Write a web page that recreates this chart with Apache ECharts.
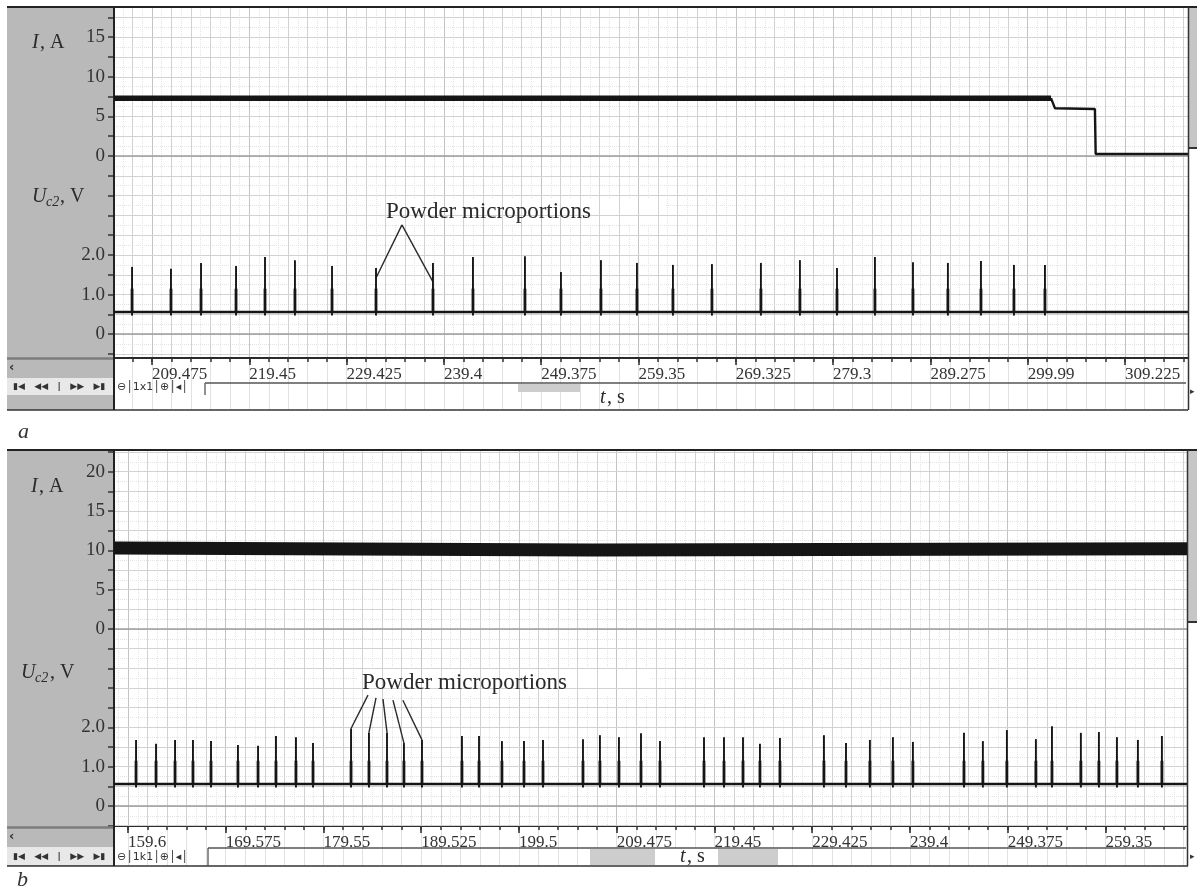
<!DOCTYPE html>
<html>
<head>
<meta charset="utf-8">
<script src="https://cdn.jsdelivr.net/npm/echarts@6/dist/echarts.min.js"></script>
<style>
  html, body { margin: 0; padding: 0; background: #ffffff; }
  #chart { width: 1197px; height: 890px; }
</style>
</head>
<body>
<div id="chart"></div>
<script>
// ---------- record a ----------
const xTicksA = [209.475, 219.45, 229.425, 239.4, 249.375, 259.35, 269.325, 279.3, 289.275, 299.25, 309.225];
const xTickLabelsA = ['209.475', '219.45', '229.425', '239.4', '249.375', '259.35', '269.325', '279.3', '289.275', '299.99', '309.225'];
const currentLabelsA = [0, 5, 10, 15];
const voltageLabelsA = [0, 1, 2];

// welding current, A (noisy plateau, then the two-step shutdown)
const bandTimeA = [205.58, 301.64];
const bandCurrentA = [7.3, 7.3];
const tailTimeA = [301.64, 302.05, 306.14, 306.22, 315.68];
const tailCurrentA = [7.3, 6.02, 5.93, 0.25, 0.25];

// sensor voltage U_c2, V: baseline and pulse peaks
const baseVoltageA = 0.56;
const pulseTimeA = [207.43, 211.42, 214.50, 218.09, 221.06, 224.13, 227.93, 232.44, 238.28, 242.38,
                    247.71, 251.40, 255.50, 259.19, 262.88, 266.88, 271.90, 275.90, 279.70, 283.59,
                    287.49, 291.07, 294.46, 297.84, 301.02];
const pulsePeakA = [1.70, 1.65, 1.80, 1.72, 1.95, 1.87, 1.72, 1.67, 1.80, 1.95,
                    1.97, 1.57, 1.87, 1.80, 1.75, 1.77, 1.80, 1.87, 1.67, 1.95,
                    1.82, 1.80, 1.85, 1.75, 1.75];
// callout lines: [from, to] in (t, V)
const leaderA = [
  [[235.10, 2.76], [232.44, 1.42]],
  [[235.10, 2.76], [238.28, 1.32]]
];

// ---------- record b ----------
const xTicksB = [159.6, 169.575, 179.55, 189.525, 199.5, 209.475, 219.45, 229.425, 239.4, 249.375, 259.35];
const xTickLabelsB = ['159.6', '169.575', '179.55', '189.525', '199.5', '209.475', '219.45', '229.425', '239.4', '249.375', '259.35'];
const currentLabelsB = [0, 5, 10, 15, 20];
const voltageLabelsB = [0, 1, 2];

const bandTimeB = [158.17, 207.0, 267.67];
const bandCurrentB = [10.3, 10.05, 10.2];

const baseVoltageB = 0.56;
const pulseTimeB = [160.42, 162.46, 164.40, 166.23, 168.07, 170.82, 172.87, 174.70, 176.74, 178.48,
                    182.36, 184.19, 186.03, 187.76, 189.60, 193.68, 195.42, 197.76, 200.01, 201.95,
                    206.03, 207.76, 209.70, 211.95, 213.89, 218.38, 220.42, 222.36, 224.09, 226.13,
                    230.62, 232.87, 235.31, 237.66, 239.70, 244.91, 246.84, 249.29, 252.25, 253.89,
                    256.84, 258.68, 260.52, 262.66, 265.11];
const pulsePeakB = [1.68, 1.58, 1.68, 1.68, 1.65, 1.55, 1.53, 1.78, 1.75, 1.60,
                    1.97, 1.87, 1.87, 1.60, 1.68, 1.78, 1.78, 1.65, 1.65, 1.68,
                    1.70, 1.80, 1.75, 1.85, 1.65, 1.75, 1.75, 1.75, 1.58, 1.73,
                    1.80, 1.60, 1.68, 1.75, 1.63, 1.86, 1.65, 1.93, 1.70, 2.03,
                    1.86, 1.88, 1.75, 1.68, 1.78];
const leaderB = [
  [[184.09, 2.82], [182.36, 1.97]],
  [[184.91, 2.75], [184.19, 1.87]],
  [[185.62, 2.72], [186.03, 1.87]],
  [[186.64, 2.69], [187.76, 1.60]],
  [[187.65, 2.69], [189.60, 1.68]]
];

// shape of every pulse: short dip below the baseline, thick core up to this level
const pulseDipV = 0.47;
const pulseCoreV = 1.15;

// ---------- helpers ----------
const SERIF = '"Liberation Serif", "DejaVu Serif", serif';
const TRACE = '#151515';
const MINOR_STEP = 1.995;

function seq(start, step, lo, hi) {
  const out = [];
  let k = Math.ceil((lo - start) / step - 1e-9);
  for (;; k++) {
    const v = +(start + k * step).toFixed(4);
    if (v > hi + 1e-9) break;
    out.push(v);
  }
  return out;
}
function pairs(xs, ys) { return xs.map((x, i) => [x, ys[i]]); }

const grids = [], xAxes = [], yAxes = [], series = [];

function addPanel(p) {
  const g = grids.length, xi = xAxes.length, yi = yAxes.length;
  grids.push({ left: 114, top: p.top, width: p.width, height: p.height, containLabel: false, outerBoundsMode: 'none' });
  grids.push({ left: 114, top: p.stripTop, width: p.width, height: p.stripH, containLabel: false, outerBoundsMode: 'none' });

  const minorX = seq(p.xTicks[0], MINOR_STEP, p.xMin, p.xMax);
  const midX = seq(p.xTicks[0] + MINOR_STEP / 2, MINOR_STEP, p.xMin, p.xMax);
  const hidden = { axisLine: { show: false }, axisTick: { show: false }, axisLabel: { show: false } };

  // x: minor ticks and the solid grid
  xAxes.push({
    type: 'value', gridIndex: g, position: 'bottom', min: p.xMin, max: p.xMax, z: 4,
    axisLine: { show: true, onZero: false, lineStyle: { color: '#2b2b2b', width: 2 } },
    axisTick: { show: true, customValues: minorX, length: 4, lineStyle: { color: '#333', width: 1.5 } },
    axisLabel: { show: false },
    splitLine: { show: true, lineStyle: { color: '#d2d2d2', width: 1 } }
  });
  // x: labelled major ticks
  xAxes.push({
    type: 'value', gridIndex: g, position: 'bottom', min: p.xMin, max: p.xMax, z: 4,
    axisLine: { show: false, onZero: false },
    axisTick: { show: true, customValues: p.xTicks, length: 7, lineStyle: { color: '#333', width: 1.6 } },
    axisLabel: {
      show: true, customValues: p.xTicks, align: 'left', margin: 8,
      fontFamily: SERIF, fontSize: 17, color: '#333',
      formatter: v => { const i = p.xTicks.findIndex(t => Math.abs(t - v) < 1e-6); return i < 0 ? '' : p.xLabels[i]; }
    },
    splitLine: { show: true, lineStyle: { color: '#c4c4c4', width: 1 } }
  });
  // x: dotted half-division grid
  xAxes.push(Object.assign({
    type: 'value', gridIndex: g, position: 'bottom', min: p.xMin, max: p.xMax,
    splitLine: { show: true, lineStyle: { color: '#e4e4e4', type: 'dotted', width: 1 } }
  }, hidden, { axisTick: { show: false, customValues: midX } }));
  // x: grid continued under the time scale
  xAxes.push(Object.assign({
    type: 'value', gridIndex: g + 1, position: 'bottom', min: p.xMin, max: p.xMax,
    splitLine: { show: true, lineStyle: { color: '#e2e2e2', width: 1 } }
  }, hidden, { axisTick: { show: false, customValues: minorX } }));

  const iTicks = seq(0, 2.5, -5, p.iMax);
  const vTicks = seq(0, 0.5, -0.5, 3.5);
  const vMid = seq(0.25, 0.5, p.vMin, p.vMax);

  // y: current, A
  yAxes.push({
    type: 'value', gridIndex: g, position: 'left', offset: 0, min: p.iMin, max: p.iMax, z: 5,
    axisLine: { show: false },
    axisTick: { show: true, customValues: iTicks, length: 6, lineStyle: { color: '#333', width: 1.5 } },
    axisLabel: { show: true, customValues: p.iLabels, margin: 9, fontFamily: SERIF, fontSize: 19, color: '#333',
                 formatter: v => String(Math.round(v)) },
    splitLine: { show: true, lineStyle: { color: '#d2d2d2', width: 1 } }
  });
  // y: voltage, V
  yAxes.push({
    type: 'value', gridIndex: g, position: 'left', offset: 0, min: p.vMin, max: p.vMax, z: 5,
    axisLine: { show: false },
    axisTick: { show: true, customValues: vTicks, length: 6, lineStyle: { color: '#333', width: 1.5 } },
    axisLabel: { show: true, customValues: p.vLabels, margin: 9, fontFamily: SERIF, fontSize: 19, color: '#333',
                 formatter: v => (v === 0 ? '0' : v.toFixed(1)) },
    splitLine: { show: true, lineStyle: { color: '#d2d2d2', width: 1 } }
  });
  // y: dotted half-division grid
  yAxes.push(Object.assign({
    type: 'value', gridIndex: g, position: 'left', min: p.vMin, max: p.vMax,
    splitLine: { show: true, lineStyle: { color: '#e4e4e4', type: 'dotted', width: 1 } }
  }, hidden, { axisTick: { show: false, customValues: vMid } }));
  // y: strip under the time scale
  yAxes.push(Object.assign({ type: 'value', gridIndex: g + 1, min: 0, max: 1, splitLine: { show: false } }, hidden));

  const zeroStyle = { color: '#9d9d9d', width: 1.6, type: 'solid' };

  // current trace
  series.push({
    type: 'line', xAxisIndex: xi, yAxisIndex: yi, data: pairs(p.bandTime, p.bandCurrent),
    symbol: 'none', silent: true, animation: false, z: 10,
    lineStyle: { color: TRACE, width: p.bandWidth, cap: 'butt' },
    markLine: { symbol: ['none', 'none'], silent: true, animation: false, label: { show: false },
                lineStyle: zeroStyle, data: [{ yAxis: 0 }] }
  });
  if (p.tailTime) {
    series.push({
      type: 'line', xAxisIndex: xi, yAxisIndex: yi, data: pairs(p.tailTime, p.tailCurrent),
      symbol: 'none', silent: true, animation: false, z: 10,
      lineStyle: { color: TRACE, width: 2.4 }
    });
  }
  // voltage baseline with the zero reference and the callout lines
  series.push({
    type: 'line', xAxisIndex: xi, yAxisIndex: yi + 1, data: [[p.xMin, p.baseV], [p.xMax, p.baseV]],
    symbol: 'none', silent: true, animation: false, z: 10,
    lineStyle: { color: TRACE, width: 2.6 },
    markLine: {
      symbol: ['none', 'none'], silent: true, animation: false, label: { show: false },
      data: [{ yAxis: 0, lineStyle: zeroStyle }]
        .concat(p.leaders.map(l => [
          { coord: l[0], lineStyle: { color: '#2a2a2a', width: 1.4, type: 'solid' } },
          { coord: l[1] }
        ]))
    }
  });
  // voltage pulses
  series.push({
    type: 'custom', xAxisIndex: xi, yAxisIndex: yi + 1, silent: true, animation: false, z: 11,
    data: pairs(p.pulseTime, p.pulsePeak),
    renderItem: (params, api) => {
      const t = api.value(0), peak = api.value(1);
      const top = api.coord([t, peak]);
      const dip = api.coord([t, pulseDipV]);
      const base = api.coord([t, p.baseV]);
      const core = api.coord([t, pulseCoreV]);
      return {
        type: 'group',
        children: [
          { type: 'line', shape: { x1: dip[0], y1: dip[1], x2: top[0], y2: top[1] }, style: { stroke: TRACE, lineWidth: 1.9 } },
          { type: 'line', shape: { x1: base[0], y1: base[1], x2: core[0], y2: core[1] }, style: { stroke: TRACE, lineWidth: 2.8 } }
        ]
      };
    }
  });
}

addPanel({
  top: 7, height: 351, width: 1074, stripTop: 360, stripH: 50,
  xMin: 205.579, xMax: 315.685, iMin: -25.505, iMax: 18.813, vMin: -0.601, vMax: 8.263,
  xTicks: xTicksA, xLabels: xTickLabelsA, iLabels: currentLabelsA, vLabels: voltageLabelsA,
  bandTime: bandTimeA, bandCurrent: bandCurrentA, bandWidth: 5.5,
  tailTime: tailTimeA, tailCurrent: tailCurrentA,
  baseV: baseVoltageA, pulseTime: pulseTimeA, pulsePeak: pulsePeakA, leaders: leaderA
});
addPanel({
  top: 450, height: 376, width: 1073, stripTop: 828, stripH: 38,
  xMin: 158.171, xMax: 267.67, iMin: -25.04, iMax: 22.75, vMin: -0.508, vMax: 9.049,
  xTicks: xTicksB, xLabels: xTickLabelsB, iLabels: currentLabelsB, vLabels: voltageLabelsB,
  bandTime: bandTimeB, bandCurrent: bandCurrentB, bandWidth: 13,
  baseV: baseVoltageB, pulseTime: pulseTimeB, pulsePeak: pulsePeakB, leaders: leaderB
});

// ---------- instrument window chrome ----------
const R = (x, y, w, h, fill, z) => ({ type: 'rect', shape: { x, y, width: w, height: h }, style: { fill }, z: z == null ? 0 : z, silent: true });
const L = (x1, y1, x2, y2, stroke, w, z) => ({ type: 'line', shape: { x1, y1, x2, y2 }, style: { stroke, lineWidth: w }, z: z == null ? 6 : z, silent: true });
const T = (x, y, text, font, fill, z) => ({ type: 'text', x, y, style: { text, font, fill: fill || '#2a2a2a', align: 'left', verticalAlign: 'middle' }, z: z == null ? 7 : z, silent: true });

const GRAY = '#b9b9b9';
const NAV = '▮◀   ◀◀   |   ▶▶   ▶▮';
// axis name of the time scale
const tLabel = (x, y) => [T(x, y, 't', 'italic 20px ' + SERIF, '#2a2a2a', 8), T(x + 7, y, ', s', '20px ' + SERIF, '#2a2a2a', 8)];

const chrome = [
  // window a
  R(7, 8, 107, 402, GRAY),
  L(7, 358.5, 114, 358.5, '#7c7c7c', 2.5),
  R(7, 378, 107, 17, '#e8e8e8', 1),
  T(9, 368, '‹', 'bold 13px "DejaVu Sans"', '#333'),
  T(13, 387, NAV, 'bold 9px "DejaVu Sans"', '#333'),
  L(7, 7, 1197, 7, '#222', 2),
  L(7, 410, 1188, 410, '#333', 1.6),
  L(114, 7, 114, 410, '#222', 2),
  T(117, 387, '⊖│1x1│⊕│◂│', '11px "DejaVu Sans"', '#333'),
  L(205, 383, 1186, 383, '#555', 1.3),
  L(205, 383, 205, 395, '#555', 1.3),
  R(518, 384, 62, 8, '#cdcdcd', 2),
  R(1188, 8, 9, 140, '#c6c6c6', 1),
  L(1188, 148, 1197, 148, '#333', 2),
  L(1188.5, 7, 1188.5, 410, '#333', 1.5),
  T(1190, 392, '▸', '9px "DejaVu Sans"', '#333'),
  R(382, 199, 284, 26, '#ffffff', 1),
  T(386, 212, 'Powder microportions', '23px ' + SERIF, '#2a2a2a'),
  T(32, 43, 'I', 'italic 20px ' + SERIF),
  T(40, 43, ', A', '20px ' + SERIF),
  T(32, 197, 'U', 'italic 20px ' + SERIF),
  T(46, 202, 'c2', 'italic 14px ' + SERIF),
  T(60, 197, ', V', '20px ' + SERIF),
  T(18, 432, 'a', 'italic 22px ' + SERIF, '#333'),

  // window b
  R(7, 451, 107, 415, GRAY),
  L(7, 827.5, 114, 827.5, '#7c7c7c', 2.5),
  R(7, 847, 107, 18, '#e8e8e8', 1),
  T(9, 837, '‹', 'bold 13px "DejaVu Sans"', '#333'),
  T(13, 857, NAV, 'bold 9px "DejaVu Sans"', '#333'),
  L(7, 450, 1197, 450, '#222', 2),
  L(7, 866, 1188, 866, '#333', 1.6),
  L(114, 450, 114, 866, '#222', 2),
  T(117, 857, '⊖│1k1│⊕│◂│', '11px "DejaVu Sans"', '#333'),
  L(208, 848, 1186, 848, '#555', 1.3),
  L(208, 848, 208, 866, '#555', 1.3),
  R(590, 849, 188, 16, '#cdcdcd', 2),
  R(655, 849, 63, 16, '#ffffff', 3),
  R(1187, 451, 10, 171, '#c6c6c6', 1),
  L(1187, 622, 1197, 622, '#333', 2),
  L(1187.5, 450, 1187.5, 866, '#333', 1.5),
  T(1190, 857, '▸', '9px "DejaVu Sans"', '#333'),
  R(358, 670, 292, 26, '#ffffff', 1),
  T(362, 683, 'Powder microportions', '23px ' + SERIF, '#2a2a2a'),
  T(31, 487, 'I', 'italic 20px ' + SERIF),
  T(39, 487, ', A', '20px ' + SERIF),
  T(21, 673, 'U', 'italic 20px ' + SERIF),
  T(35, 678, 'c2', 'italic 14px ' + SERIF),
  T(50, 673, ', V', '20px ' + SERIF),
  T(17, 880, 'b', 'italic 22px ' + SERIF, '#333')
].concat(tLabel(600, 398), tLabel(680, 857));

const chart = echarts.init(document.getElementById('chart'), null, { renderer: 'canvas' });
chart.setOption({
  animation: false,
  backgroundColor: '#ffffff',
  grid: grids,
  xAxis: xAxes,
  yAxis: yAxes,
  series: series,
  graphic: { elements: chrome }
});
</script>
</body>
</html>
